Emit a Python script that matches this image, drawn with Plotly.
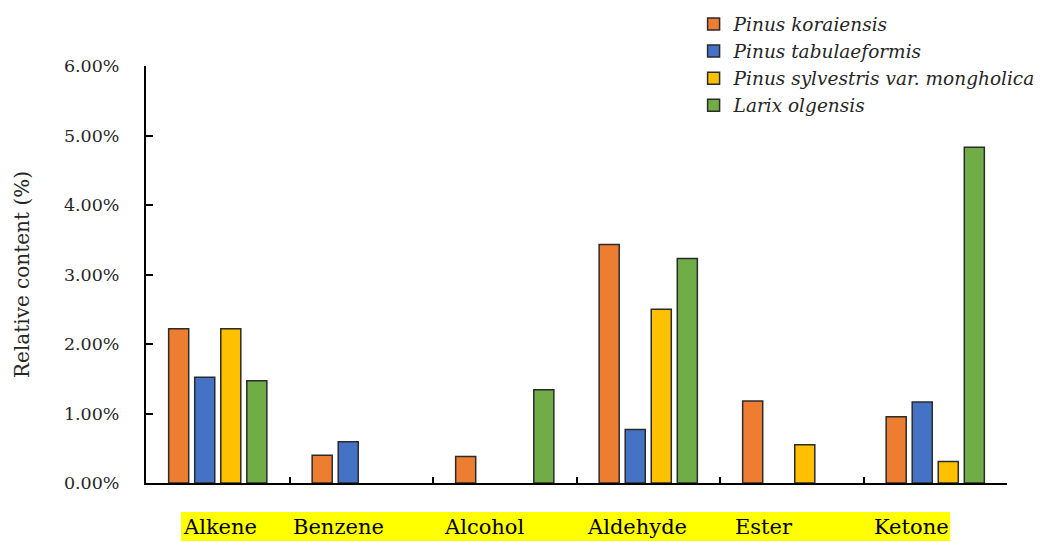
import plotly.graph_objects as go

# Compound classes on the x axis
categories = ["Alkene", "Benzene", "Alcohol", "Aldehyde", "Ester", "Ketone"]

# Relative content (%) per species; None = not detected
pinus_koraiensis = [2.22, 0.40, 0.38, 3.43, 1.18, 0.955]
pinus_tabulaeformis = [1.52, 0.595, None, 0.77, None, 1.165]
pinus_sylvestris = [2.22, None, None, 2.50, 0.55, 0.31]
larix_olgensis = [1.47, None, 1.34, 3.23, None, 4.83]

series_names = [
    "Pinus koraiensis",
    "Pinus tabulaeformis",
    "Pinus sylvestris var. mongholica",
    "Larix olgensis",
]
series_values = [pinus_koraiensis, pinus_tabulaeformis, pinus_sylvestris, larix_olgensis]
series_colors = ["#ED7D31", "#4472C4", "#FFC000", "#70AD47"]

y_ticks = [0, 1, 2, 3, 4, 5, 6]
y_tick_labels = ["0.00%", "1.00%", "2.00%", "3.00%", "4.00%", "5.00%", "6.00%"]

# horizontal nudges for the highlighted category captions (px)
label_shift = [2, -23, -21, -11, -28, -24]

FONT = "DejaVu Serif"

fig = go.Figure()
for name, vals, col in zip(series_names, series_values, series_colors):
    fig.add_trace(go.Bar(
        x=categories,
        y=vals,
        name=name,
        marker=dict(color=col, line=dict(color="#2b2b2b", width=1.5)),
    ))

# yellow highlight strip behind the category captions
fig.add_shape(type="rect", xref="paper", yref="paper",
              x0=0.0407, x1=0.934, y0=-0.139, y1=-0.0695,
              fillcolor="#FFFF00", line=dict(width=0), layer="below")

for cat, dx in zip(categories, label_shift):
    fig.add_annotation(x=cat, xref="x", y=-0.105, yref="paper",
                       text=cat, showarrow=False, xshift=dx,
                       yanchor="middle", xanchor="center",
                       font=dict(family=FONT, size=21, color="#000000"))

fig.update_layout(
    width=1049, height=542,
    margin=dict(l=146, r=42, t=66, b=59, autoexpand=False),
    paper_bgcolor="white", plot_bgcolor="white",
    barmode="group", bargap=0.274, bargroupgap=0.23,
    font=dict(family=FONT, color="#262626"),
    showlegend=True,
    legend=dict(
        x=0.636, y=1.145, xanchor="left", yanchor="top",
        font=dict(family=FONT, size=18.5, style="italic", color="#262626"),
        bgcolor="rgba(0,0,0,0)", tracegroupgap=0,
    ),
    xaxis=dict(
        type="category",
        showline=True, linecolor="black", linewidth=2,
        ticks="inside", tickson="boundaries", ticklen=6, tickwidth=2,
        tickcolor="black",
        showticklabels=False, showgrid=False, zeroline=False,
    ),
    yaxis=dict(
        range=[0, 6], tickmode="array", tickvals=y_ticks, ticktext=y_tick_labels,
        showline=True, linecolor="black", linewidth=2,
        ticks="inside", ticklen=7, tickwidth=2, tickcolor="black",
        ticklabelstandoff=21,
        showgrid=False, zeroline=False,
        tickfont=dict(family=FONT, size=17.5, color="#262626"),
        title=dict(text="Relative content (%)", standoff=29,
                   font=dict(family=FONT, size=20, color="#262626")),
    ),
)

fig.write_html("out.html")
